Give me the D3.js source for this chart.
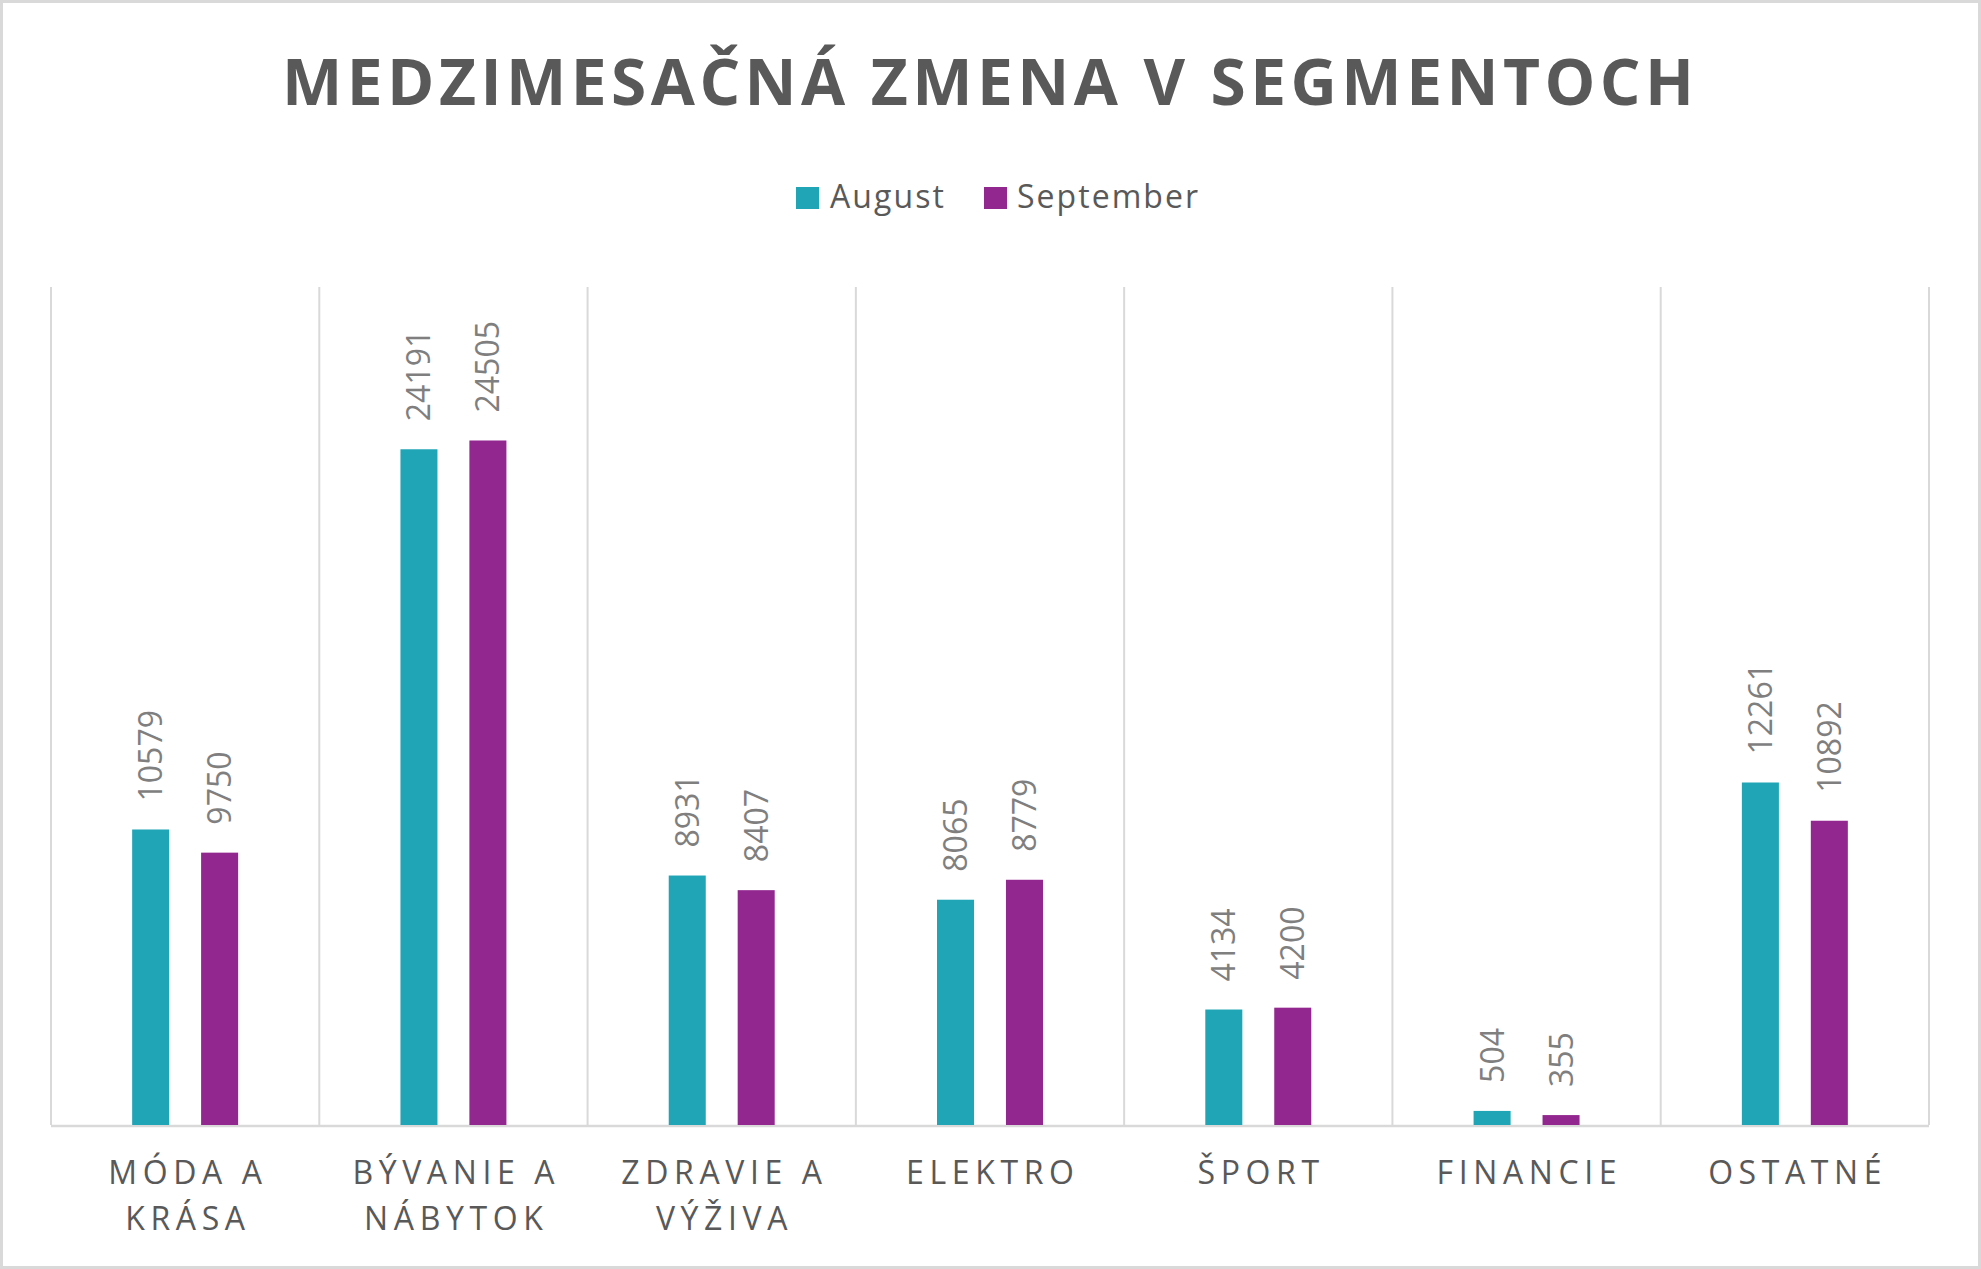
<!DOCTYPE html>
<html>
<head>
<meta charset="utf-8">
<script src="https://cdn.jsdelivr.net/npm/d3@7/dist/d3.min.js"></script>
<style>
html,body{margin:0;padding:0;background:#fff;}
svg{display:block;font-family:'Open Sans',sans-serif;}
</style>
</head>
<body>
<svg id="chart" width="1981" height="1269"></svg>
<script>
const categories = [["MÓDA A","KRÁSA"],["BÝVANIE A","NÁBYTOK"],["ZDRAVIE A","VÝŽIVA"],["ELEKTRO"],["ŠPORT"],["FINANCIE"],["OSTATNÉ"]];
const seriesNames = ["August","September"];
const august = [10579,24191,8931,8065,4134,504,12261];
const september = [9750,24505,8407,8779,4200,355,10892];
const colors = ["#1fa5b5","#92278f"];
const chartTitle = "MEDZIMESAČNÁ ZMENA V SEGMENTOCH";

(function(){
const W = 1981, H = 1269;
const svg = d3.select("#chart");
const pLeft = 51, pRight = 1929, pTop = 287, pBottom = 1125;

svg.append("rect").attr("x",1.5).attr("y",1.5).attr("width",W-3).attr("height",H-3)
  .attr("fill","#fff").attr("stroke","#d9d9d9").attr("stroke-width",3);

function fitSpacing(sel, target, cx){
  const w = sel.node().getComputedTextLength();
  const n = sel.text().length;
  const s = (target - w)/(n-1);
  sel.attr("letter-spacing", s).attr("x", cx + s/2);
  return s;
}

const t = svg.append("text").attr("x",988).attr("y",105).attr("text-anchor","middle")
  .attr("font-size",64).attr("font-weight",700).attr("fill","#595959").text(chartTitle);
fitSpacing(t, 1412, 988);

const x = d3.scaleBand().domain(d3.range(categories.length)).range([pLeft,pRight]).padding(0);
const y = d3.scaleLinear().domain([0,30000]).range([pBottom,pTop]);

const gx = d3.range(categories.length+1).map(i => i < categories.length ? x(i) : x(categories.length-1)+x.bandwidth());
svg.append("g").selectAll("line").data(gx).join("line")
  .attr("x1",d=>d).attr("x2",d=>d).attr("y1",y(30000)).attr("y2",pBottom)
  .attr("stroke","#d9d9d9").attr("stroke-width",2);

svg.append("line").attr("x1",pLeft).attr("x2",pRight).attr("y1",pBottom+1).attr("y2",pBottom+1)
  .attr("stroke","#d9d9d9").attr("stroke-width",2.5);

const bw = x.bandwidth()*0.138;
const offs = x.bandwidth()*0.1285;
const series = [august, september];
series.forEach((vals,si)=>{
  const g = svg.append("g");
  vals.forEach((v,i)=>{
    const cx = x(i) + x.bandwidth()/2 + (si===0?-offs:offs);
    g.append("rect").attr("x",cx-bw/2).attr("y",y(v)).attr("width",bw).attr("height",pBottom-y(v))
      .attr("fill",colors[si]);
    g.append("text").attr("transform",`translate(${cx},${y(v)-28}) rotate(-90)`)
      .attr("dy","0.36em").attr("font-size",32).attr("fill","#7f7f7f").text(v);
  });
});

const probe = svg.append("text").attr("font-size",32).text("FINANCIE");
const pw = probe.node().getComputedTextLength();
probe.remove();
const ls = (180 - pw)/7;
categories.forEach((lines,i)=>{
  const cx = x(i)+x.bandwidth()/2;
  lines.forEach((ln,j)=>{
    svg.append("text").attr("x",cx+ls/2).attr("y",1184+j*46).attr("text-anchor","middle")
      .attr("font-size",32).attr("fill","#595959").attr("letter-spacing",ls).text(ln);
  });
});

const legendPos = [{sx:796, tx:830, tw:114},{sx:984, tx:1017, tw:181}];
seriesNames.forEach((nm,i)=>{
  const p = legendPos[i];
  svg.append("rect").attr("x",p.sx).attr("y",187).attr("width",23).attr("height",22).attr("fill",colors[i]);
  const tt = svg.append("text").attr("x",p.tx).attr("y",208).attr("font-size",32).attr("fill","#595959").text(nm);
  const w = tt.node().getComputedTextLength();
  tt.attr("letter-spacing", (p.tw - w)/(nm.length-1));
});
})();
</script>
</body>
</html>
